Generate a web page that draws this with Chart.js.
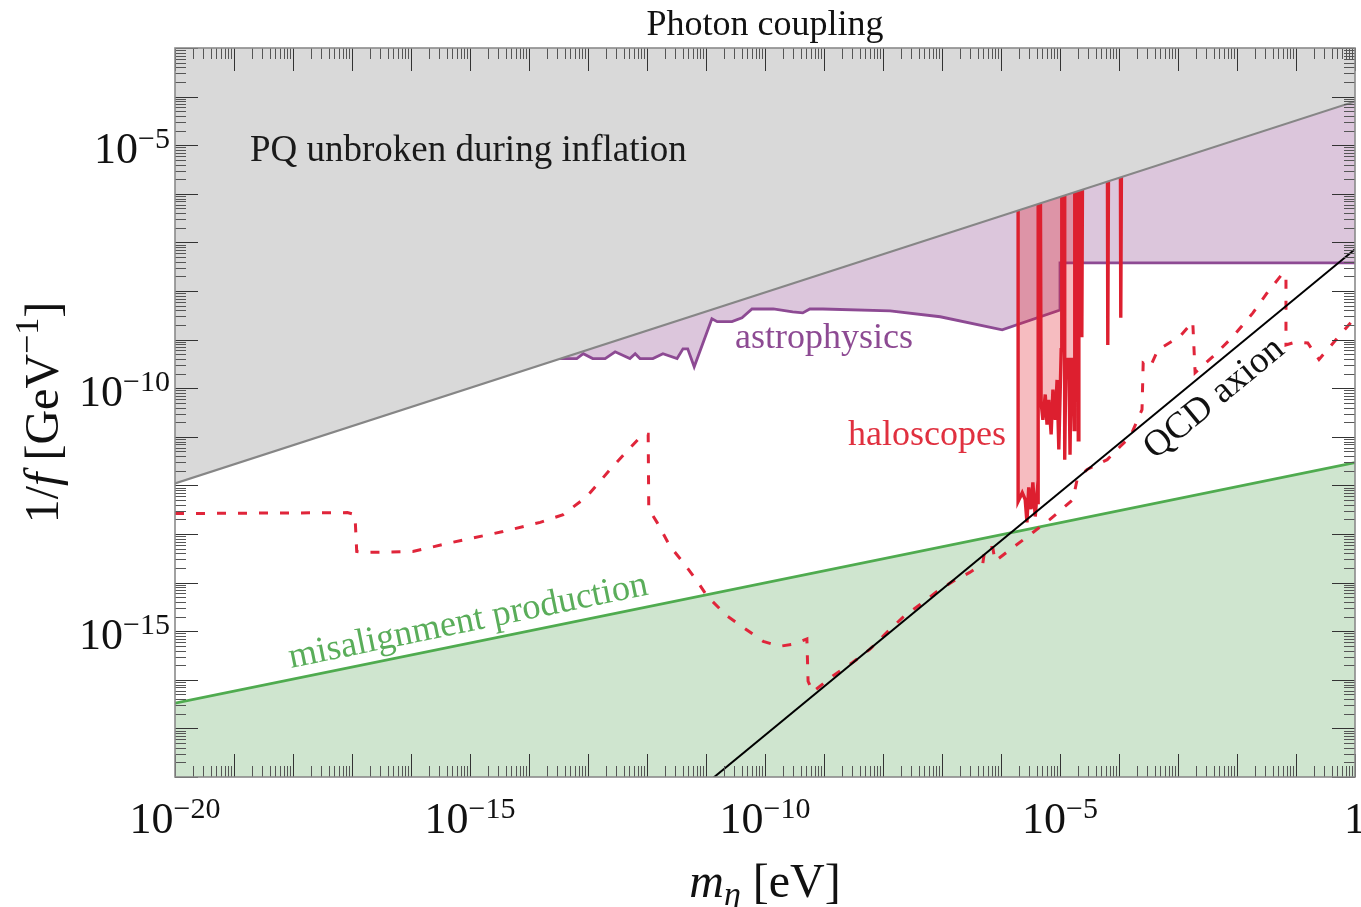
<!DOCTYPE html>
<html>
<head>
<meta charset="utf-8">
<script src="https://cdn.jsdelivr.net/npm/chart.js@4.4.1/dist/chart.umd.min.js"></script>
<style>
html, body { margin: 0; padding: 0; background: #fff; }
#wrap { width: 1361px; height: 907px; position: relative; }
</style>
</head>
<body>
<div id="wrap"><canvas id="grafico"></canvas></div>
<script>
// values as [log10 m (eV), log10 1/f (GeV^-1)]
const pqLine = [[-20, -11.96], [0, -4.10]];
const misalignLine = [[-20, -16.48], [0, -11.53]];
const qcdLine = [[-12, -19.14], [0, -7.14]];

const astroPts = [
  [-13.60, -9.39], [-13.19, -9.39], [-13.08, -9.29], [-12.92, -9.39], [-12.71, -9.39],
  [-12.54, -9.25], [-12.29, -9.39], [-12.20, -9.29], [-12.12, -9.39], [-11.90, -9.39],
  [-11.73, -9.29], [-11.49, -9.39], [-11.39, -9.19], [-11.31, -9.19], [-11.20, -9.56],
  [-10.90, -8.57], [-10.81, -8.63], [-10.56, -8.63], [-10.39, -8.55], [-10.22, -8.37],
  [-9.86, -8.37], [-9.53, -8.43], [-9.36, -8.45], [-9.24, -8.37], [-9.02, -8.37],
  [-7.88, -8.41], [-7.03, -8.53], [-5.98, -8.80], [-5.00, -8.39], [-5.00, -7.42], [0, -7.42]
];

const haloPts = [
  [-5.71, -3], [-5.71, -12.33], [-5.64, -12.15], [-5.59, -12.29], [-5.56, -12.76],
  [-5.53, -12.04], [-5.49, -12.49], [-5.46, -11.94], [-5.42, -12.64], [-5.39, -12.19],
  [-5.37, -12.39], [-5.37, -3], [-5.34, -3], [-5.32, -10.30], [-5.29, -10.65],
  [-5.25, -10.13], [-5.22, -10.75], [-5.19, -10.24], [-5.15, -10.95], [-5.12, -10.03],
  [-5.08, -10.65], [-5.05, -9.83], [-5.02, -11.26], [-4.98, -9.21], [-4.97, -3],
  [-4.93, -3], [-4.92, -11.47], [-4.90, -9.41], [-4.85, -9.41], [-4.83, -11.37],
  [-4.81, -9.41], [-4.78, -9.41], [-4.76, -10.85], [-4.75, -3], [-4.71, -3],
  [-4.69, -11.06], [-4.68, -3], [-4.64, -3], [-4.63, -8.95], [-4.61, -3],
  [-4.20, -3], [-4.19, -9.11], [-4.17, -3], [-3.98, -3], [-3.97, -8.55], [-3.95, -3]
];

const projPts = [
  [-20, -12.58], [-17.08, -12.56], [-16.95, -12.60], [-16.92, -13.36], [-16.81, -13.38],
  [-15.97, -13.36], [-15.29, -13.17], [-14.44, -12.95], [-13.81, -12.76], [-13.42, -12.60],
  [-13.02, -12.23], [-12.58, -11.61], [-12.07, -10.95], [-11.98, -10.95], [-11.97, -12.49],
  [-11.83, -12.76], [-11.61, -13.25], [-11.39, -13.58], [-11.15, -13.97], [-10.98, -14.28],
  [-10.64, -14.69], [-10.37, -14.92], [-10.03, -15.21], [-9.75, -15.31], [-9.54, -15.27],
  [-9.29, -15.16], [-9.27, -16.03], [-9.19, -16.25], [-8.85, -15.92], [-8.51, -15.64],
  [-8.22, -15.37], [-7.93, -15.02], [-7.66, -14.71], [-7.37, -14.45], [-7.08, -14.18],
  [-6.81, -13.97], [-6.53, -13.79], [-6.31, -13.62], [-6.27, -13.28], [-6.14, -13.28],
  [-6.10, -13.56], [-5.80, -13.28], [-5.46, -12.97], [-5.17, -12.70], [-4.78, -12.29],
  [-4.71, -11.88], [-4.54, -11.67], [-4.20, -11.47], [-3.98, -11.20], [-3.81, -11.00],
  [-3.61, -10.44], [-3.59, -9.48], [-3.47, -9.56], [-3.34, -9.21], [-2.97, -8.94],
  [-2.75, -8.63], [-2.71, -9.68], [-2.41, -9.35], [-2.07, -8.94], [-1.73, -8.45],
  [-1.49, -8.04], [-1.22, -7.63], [-1.17, -7.67], [-1.17, -9.11], [-1.00, -9.05],
  [-0.80, -9.07], [-0.61, -9.41], [-0.32, -9.00], [0, -8.55]
];

const xTickExp = [-20, -15, -10, -5, 0];
const yTickExp = [-5, -10, -15];
const xRange = [-20, 0];
const yRange = [-18, -3];

const serif = '"Liberation Serif", "DejaVu Serif", serif';

function pontos(lista) {
  return lista.map(function (p) { return { x: Math.pow(10, p[0]), y: Math.pow(10, p[1]) }; });
}

function desenhaPartes(ctx, partes, x, y, align) {
  // draws a run of text pieces (normal / italic / sub / sup) on one baseline
  let total = 0;
  partes.forEach(function (p) { ctx.font = p.f; p.w = ctx.measureText(p.t).width; total += p.w; });
  let cx = align === 'center' ? x - total / 2 : x;
  ctx.textAlign = 'left';
  partes.forEach(function (p) {
    ctx.font = p.f;
    ctx.fillText(p.t, cx, y + (p.dy || 0));
    cx += p.w;
  });
}

const decor = {
  id: 'decor',
  afterDatasetsDraw(chart) {
    const ctx = chart.ctx;
    const a = chart.chartArea;
    const xs = chart.scales.x;
    const ys = chart.scales.y;
    ctx.save();

    function risco(x1, y1, x2, y2) { ctx.beginPath(); ctx.moveTo(x1, y1); ctx.lineTo(x2, y2); ctx.stroke(); }

    // ticks pointing inward on all four sides
    ctx.lineWidth = 1;
    for (let e = xRange[0]; e <= xRange[1]; e++) {
      for (let k = 1; k <= 9; k++) {
        const v = k * Math.pow(10, e);
        if (v > xs.max * 1.0001) break;
        const px = Math.round(xs.getPixelForValue(v)) + 0.5;
        const len = k === 1 ? 23 : 11;
        ctx.strokeStyle = k === 1 ? '#333' : '#555';
        risco(px, a.bottom, px, a.bottom - len);
        risco(px, a.top, px, a.top + len);
      }
    }
    for (let e = yRange[0]; e <= yRange[1]; e++) {
      for (let k = 1; k <= 9; k++) {
        const v = k * Math.pow(10, e);
        if (v > ys.max * 1.0001) break;
        const py = Math.round(ys.getPixelForValue(v)) + 0.5;
        const len = k === 1 ? 23 : 11;
        ctx.strokeStyle = k === 1 ? '#333' : '#555';
        risco(a.left, py, a.left + len, py);
        risco(a.right, py, a.right - len, py);
      }
    }
    ctx.strokeStyle = '#8a8a8a';
    ctx.lineWidth = 1.6;
    ctx.strokeRect(a.left, a.top, a.right - a.left, a.bottom - a.top);

    // tick labels
    ctx.fillStyle = '#111';
    ctx.textBaseline = 'alphabetic';
    xTickExp.forEach(function (e) {
      const px = xs.getPixelForValue(Math.pow(10, e));
      if (e === 0) {
        ctx.font = '44px ' + serif;
        ctx.textAlign = 'center';
        ctx.fillText('1', px, a.bottom + 56);
        return;
      }
      desenhaPartes(ctx, [
        { t: '10', f: '44px ' + serif },
        { t: '\u2212' + Math.abs(e), f: '30px ' + serif, dy: -15 }
      ], px, a.bottom + 56, 'center');
    });
    yTickExp.forEach(function (e) {
      const py = ys.getPixelForValue(Math.pow(10, e));
      ctx.font = '30px ' + serif;
      const ex = '\u2212' + Math.abs(e);
      const w2 = ctx.measureText(ex).width;
      ctx.font = '44px ' + serif;
      const w1 = ctx.measureText('10').width;
      const x0 = a.left - 5 - w1 - w2;
      desenhaPartes(ctx, [
        { t: '10', f: '44px ' + serif },
        { t: ex, f: '30px ' + serif, dy: -15 }
      ], x0, py + 18, 'left');
    });

    // title and axis titles
    const meio = (a.left + a.right) / 2;
    ctx.fillStyle = '#111';
    ctx.font = '36px ' + serif;
    ctx.textAlign = 'center';
    ctx.fillText('Photon coupling', meio, 35);

    desenhaPartes(ctx, [
      { t: 'm', f: 'italic 48px ' + serif },
      { t: '\u03b7', f: 'italic 34px ' + serif, dy: 8 },
      { t: ' [eV]', f: '48px ' + serif }
    ], meio, 897, 'center');

    ctx.save();
    ctx.translate(58, (a.top + a.bottom) / 2);
    ctx.rotate(-Math.PI / 2);
    desenhaPartes(ctx, [
      { t: '1/', f: '48px ' + serif },
      { t: 'f', f: 'italic 48px ' + serif },
      { t: ' [GeV', f: '48px ' + serif },
      { t: '\u22121', f: '34px ' + serif, dy: -20 },
      { t: ']', f: '48px ' + serif }
    ], 0, 0, 'center');
    ctx.restore();

    // region labels
    ctx.textAlign = 'left';
    ctx.font = '37px ' + serif;
    ctx.fillStyle = '#1a1a1a';
    ctx.fillText('PQ unbroken during inflation', 250, 161);
    ctx.font = '36px ' + serif;
    ctx.fillStyle = '#8d4a93';
    ctx.fillText('astrophysics', 735, 348);
    ctx.fillStyle = '#e0303f';
    ctx.fillText('haloscopes', 848, 445);

    ctx.save();
    ctx.translate(291, 668);
    ctx.rotate(-11.6 * Math.PI / 180);
    ctx.fillStyle = '#5aad5a';
    ctx.font = '36.5px ' + serif;
    ctx.fillText('misalignment production', 0, 0);
    ctx.restore();

    ctx.save();
    ctx.translate(1155, 460);
    ctx.rotate(-39.4 * Math.PI / 180);
    ctx.fillStyle = '#111';
    ctx.font = '37px ' + serif;
    ctx.fillText('QCD axion', 0, 0);
    ctx.restore();

    ctx.restore();
  }
};

const ctx1 = document.getElementById('grafico').getContext('2d');
const grafico = new Chart(ctx1, {
  type: 'line',
  data: {
    datasets: [
      {
        label: 'astrophysics', data: pontos(astroPts), order: 10,
        borderColor: '#8d4a93', borderWidth: 2.8, backgroundColor: '#dcc6dc', fill: 'end', clip: 0
      },
      {
        label: 'haloscopes', data: pontos(haloPts), order: 9,
        borderColor: '#dd1f2f', borderWidth: 3.4, backgroundColor: 'rgba(224,32,47,0.3)', fill: 'end', clip: 0
      },
      {
        label: 'PQ unbroken', data: pontos(pqLine), order: 8,
        borderColor: '#868686', borderWidth: 2.2, backgroundColor: '#d9d9d9', fill: 'end', clip: 0
      },
      {
        label: 'misalignment', data: pontos(misalignLine), order: 7,
        borderColor: '#4fab4f', borderWidth: 2.8, backgroundColor: '#cfe5cf', fill: 'start', clip: 0
      },
      {
        label: 'projections', data: pontos(projPts), order: 6,
        borderColor: '#e0253a', borderWidth: 3, borderDash: [9, 12], fill: false, clip: 0
      },
      {
        label: 'QCD axion', data: pontos(qcdLine), order: 5,
        borderColor: '#000', borderWidth: 2, fill: false, clip: 0
      }
    ]
  },
  options: {
    responsive: true,
    maintainAspectRatio: false,
    animation: false,
    devicePixelRatio: 1,
    layout: { padding: { left: 175, top: 48, right: 6, bottom: 130 } },
    elements: { point: { radius: 0, hoverRadius: 0 }, line: { tension: 0 } },
    plugins: { legend: { display: false }, tooltip: { enabled: false } },
    events: [],
    scales: {
      x: { type: 'logarithmic', min: Math.pow(10, xRange[0]), max: Math.pow(10, xRange[1]), display: false },
      y: { type: 'logarithmic', min: Math.pow(10, yRange[0]), max: Math.pow(10, yRange[1]), display: false }
    }
  },
  plugins: [decor]
});
</script>
</body>
</html>
